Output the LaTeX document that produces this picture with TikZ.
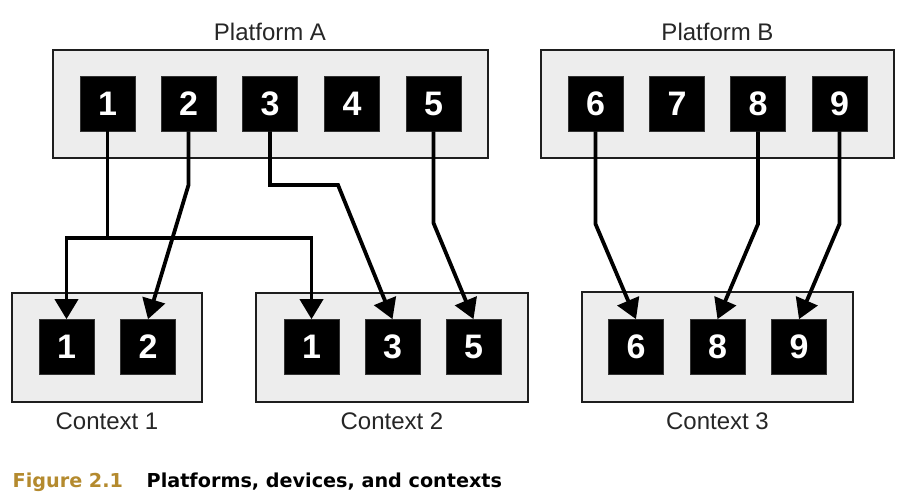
\documentclass[tikz,border=0pt]{standalone}
\usepackage{fontspec}
\setmainfont{Liberation Sans}
\newfontfamily\capfont{DejaVu Sans}
\usetikzlibrary{arrows.meta}
\definecolor{boxgray}{RGB}{237,237,237}
\definecolor{edgegray}{RGB}{30,30,30}
\definecolor{figgold}{RGB}{180,138,46}
\begin{document}
\begin{tikzpicture}[x=1pt,y=-1pt,
  groupbox/.style={draw=edgegray,fill=boxgray,line width=2pt,inner sep=0pt},
  device/.style={fill=black,draw=black!80,line width=0.6pt,minimum width=55pt,minimum height=55pt,inner sep=0pt,
    text=white,font=\fontsize{34}{36}\selectfont\bfseries},
  label/.style={font=\fontsize{24}{26}\selectfont,text=black!85,inner sep=0pt},
  link/.style={line width=3.8pt,black,-{Triangle[length=20pt,width=23pt]}},
  plain/.style={line width=3.8pt,black}]
\useasboundingbox (0,0) rectangle (910,502);
% group boxes
\node[groupbox,minimum width=435pt,minimum height=108pt] (pA) at (270.5,104) {};
\node[groupbox,minimum width=353pt,minimum height=108pt] (pB) at (717.5,104) {};
\node[groupbox,minimum width=190pt,minimum height=109pt] (cx1) at (107,347.5) {};
\node[groupbox,minimum width=272pt,minimum height=109pt] (cx2) at (392,347.5) {};
\node[groupbox,minimum width=271pt,minimum height=110pt] (cx3) at (717.5,347) {};
% labels
\node[label] (lA) at (270,31.5) {Platform A};
\node[label] (lB) at (717.5,31.5) {Platform B};
\node[label] (l1) at (107,421) {Context 1};
\node[label] (l2) at (392,421) {Context 2};
\node[label] (l3) at (717.5,421) {Context 3};
% platform devices
\node[device] (a1) at (107.5,103.5) {1};
\node[device] (a2) at (188.5,103.5) {2};
\node[device] (a3) at (270,103.5) {3};
\node[device] (a4) at (352,103.5) {4};
\node[device] (a5) at (433.5,103.5) {5};
\node[device] (b6) at (595.5,103.5) {6};
\node[device] (b7) at (677,103.5) {7};
\node[device] (b8) at (758,103.5) {8};
\node[device] (b9) at (839.5,103.5) {9};
% context devices
\node[device] (c11) at (66.5,347) {1};
\node[device] (c12) at (148,347) {2};
\node[device] (c21) at (311.5,347) {1};
\node[device] (c23) at (392.5,347) {3};
\node[device] (c25) at (473.5,347) {5};
\node[device] (c36) at (636,347) {6};
\node[device] (c38) at (717.5,347) {8};
\node[device] (c39) at (799,347) {9};
% connectors
\coordinate (j1) at (107.5,238);
\draw[plain] (a1.south) -- (j1);
\draw[link] (j1) -| (c11.north);
\draw[link] (j1) -| (c21.north);
\coordinate (k2) at (188.5,185);
\draw[link] (a2.south) -- (k2) -- (c12.north);
\coordinate (k3) at (338,185);
\draw[link] (a3.south) |- (k3) -- (c23.north);
\coordinate (k5) at (433.5,223);
\draw[link] (a5.south) -- (k5) -- (c25.north);
\coordinate (k6) at (595.5,224);
\draw[link] (b6.south) -- (k6) -- (c36.north);
\coordinate (k8) at (758,224);
\draw[link] (b8.south) -- (k8) -- (c38.north);
\coordinate (k9) at (839.5,224);
\draw[link] (b9.south) -- (k9) -- (c39.north);
% caption
\node[anchor=base west,inner sep=0pt,font=\capfont\fontsize{19.2}{21}\selectfont\bfseries,text=figgold] (cfig) at (12.5,487) {Figure 2.1};
\node[anchor=base west,inner sep=0pt,font=\capfont\fontsize{19.2}{21}\selectfont\bfseries] (ctext) at (146.5,487) {Platforms, devices, and contexts};
\end{tikzpicture}
\end{document}
